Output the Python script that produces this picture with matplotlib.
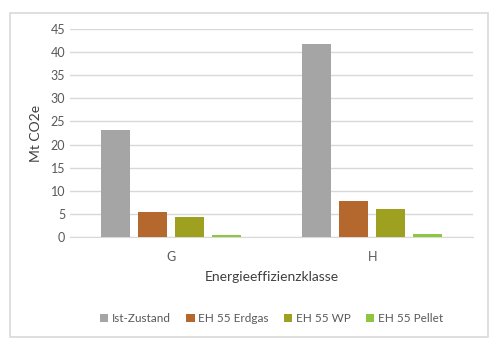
import matplotlib.pyplot as plt
import numpy as np
from matplotlib.patches import Rectangle

# Data
classes = ['G', 'H']
series = ['Ist-Zustand', 'EH 55 Erdgas', 'EH 55 WP', 'EH 55 Pellet']
ist = [23.2, 41.7]
erdgas = [5.5, 7.7]
wp = [4.3, 6.0]
pellet = [0.4, 0.7]

colors = ['#a5a5a5', '#b5682d', '#9ea11f', '#8fc640']

plt.rcParams['font.family'] = ['Lato', 'DejaVu Sans']

fig = plt.figure(figsize=(5, 3.53), dpi=100)
fig.patch.set_facecolor('white')
# outer chart border
fig.patches.append(Rectangle((10/500, 1-337/353), 478/500, 324/353, transform=fig.transFigure,
                             fill=False, edgecolor='#d9d9d9', linewidth=1.2))

ax = fig.add_axes([70/500, 1-237/353, 403/500, 208/353])

x = np.arange(len(classes))
width = 0.144
step = 0.184
values = [ist, erdgas, wp, pellet]
for i, (name, vals) in enumerate(zip(series, values)):
    ax.bar(x + (i - 1.5) * step, vals, width, color=colors[i], label=name, zorder=3)

ax.set_xlim(-0.5, 1.5)
ax.set_ylim(0, 45)
ax.set_yticks(np.arange(0, 46, 5))
ax.set_xticks(x)
ax.set_xticklabels(classes)
ax.grid(axis='y', color='#d9d9d9', linewidth=1, zorder=0)
for s in ['top', 'right', 'left']:
    ax.spines[s].set_visible(False)
ax.spines['bottom'].set_color('#d9d9d9')
ax.tick_params(length=0, labelsize=9, colors='#595959')
ax.tick_params(axis='x', pad=10)
ax.set_ylabel('Mt CO2e', fontsize=10, color='#404040', labelpad=6)
ax.set_xlabel('Energieeffizienzklasse', fontsize=10, color='#404040', labelpad=6)

ax.legend(loc='upper center', bbox_to_anchor=(0.5, -0.315), ncol=4, frameon=False,
          fontsize=8.5, handlelength=0.7, handleheight=0.7, handletextpad=0.3,
          columnspacing=1.3, labelcolor='#595959')

plt.savefig('out.png', dpi=100, facecolor='white')
